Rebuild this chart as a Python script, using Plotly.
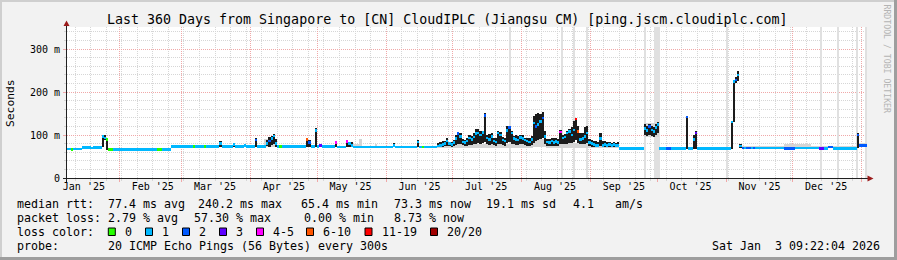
import plotly.graph_objects as go
import pandas as pd

N = None
END = "2026-01-03 09:22:04"
START = "2025-01-08 09:22:04"

# ---------------- data: step segments (each lasts until the next start) -------------
seg_start = [
    "2025-01-08 09:22:04", "2025-01-10", "2025-01-11", "2025-01-15", "2025-01-19", "2025-01-20",
    "2025-01-24", "2025-01-25", "2025-01-26", "2025-01-27", "2025-01-29", "2025-02-18",
    "2025-02-20", "2025-02-24", "2025-03-06", "2025-03-07", "2025-03-11", "2025-03-12",
    "2025-03-18", "2025-03-19", "2025-03-24", "2025-03-25", "2025-03-29", "2025-03-30",
    "2025-04-03", "2025-04-04", "2025-04-08", "2025-04-09", "2025-04-10", "2025-04-11",
    "2025-04-12", "2025-04-13", "2025-04-14", "2025-04-15", "2025-04-26", "2025-04-27",
    "2025-04-28", "2025-04-30", "2025-05-01", "2025-05-02", "2025-05-03", "2025-05-09",
    "2025-05-10", "2025-05-14", "2025-05-15", "2025-05-16", "2025-05-17", "2025-06-04",
    "2025-06-05", "2025-06-15", "2025-06-16", "2025-06-17", "2025-06-18",
    # noisy summer
    "2025-06-24", "2025-06-25", "2025-06-26", "2025-06-27", "2025-06-28", "2025-06-29", "2025-06-30",
    "2025-07-01", "2025-07-02", "2025-07-03", "2025-07-04", "2025-07-05", "2025-07-06", "2025-07-07",
    "2025-07-08", "2025-07-09", "2025-07-10", "2025-07-11", "2025-07-12", "2025-07-13", "2025-07-14",
    "2025-07-15", "2025-07-16", "2025-07-17", "2025-07-18", "2025-07-19", "2025-07-20", "2025-07-21",
    "2025-07-22", "2025-07-23", "2025-07-24", "2025-07-25", "2025-07-26", "2025-07-27", "2025-07-28",
    "2025-07-29", "2025-07-30", "2025-07-31", "2025-08-01", "2025-08-02", "2025-08-03", "2025-08-04",
    "2025-08-05", "2025-08-06", "2025-08-07", "2025-08-08", "2025-08-09", "2025-08-10", "2025-08-11",
    "2025-08-12", "2025-08-13", "2025-08-14", "2025-08-15", "2025-08-16", "2025-08-17", "2025-08-18",
    "2025-08-19", "2025-08-20", "2025-08-21", "2025-08-22", "2025-08-23", "2025-08-24", "2025-08-25",
    "2025-08-26", "2025-08-27", "2025-08-28", "2025-08-29", "2025-08-30", "2025-08-31", "2025-09-01",
    "2025-09-02", "2025-09-03", "2025-09-04", "2025-09-05", "2025-09-06", "2025-09-07", "2025-09-08",
    "2025-09-09", "2025-09-10", "2025-09-11", "2025-09-12", "2025-09-13",
    # autumn / winter
    "2025-09-14", "2025-09-25", "2025-09-26", "2025-09-27", "2025-09-28", "2025-09-29",
    "2025-09-30", "2025-10-01", "2025-10-02", "2025-10-05", "2025-10-07", "2025-10-14",
    "2025-10-15", "2025-10-17", "2025-10-18", "2025-10-19", "2025-11-03", "2025-11-04",
    "2025-11-05", "2025-11-06", "2025-11-07", "2025-11-08", "2025-11-09", "2025-11-10",
    "2025-11-12", "2025-11-13", "2025-11-14", "2025-11-27", "2025-12-02", "2025-12-13",
    "2025-12-15", "2025-12-17", "2025-12-19", "2025-12-30", "2025-12-31",
]

median_ms = [
    67, 66, 67, 71, 70, 71,
    96, 93, 90, 66, 66, 66,
    66, 73, 73, 73, 73, 73,
    80, 73, 78, 73, 76, 73,
    88, 73, 80, 86, 92, 98,
    80, 73, 73, 73, 89, 82,
    73, 110, 73, 76, 73, 82,
    72, 85, 80, 76, 72, 76,
    72, 84, 72, 72, 72,
    74, 75, 78, 80, 86, 80, 78,
    82, 92, 103, 97, 84, 82, 86,
    93, 90, 95, 103, 105, 100, 106,
    145, 93, 90, 97, 86, 84, 105,
    100, 88, 86, 110, 117, 105, 92,
    90, 88, 94, 92, 88, 86, 84,
    90, 128, 120, 125, 132, 140, 97,
    84, 82, 86, 82, 85, 82, 107,
    93, 95, 105, 108, 100, 112, 137,
    108, 90, 92, 97, 105, 82, 80,
    78, 76, 76, 92, 76, 78, 75,
    78, 76, 78, 75, 76,
    68, 115, 110, 120, 112, 108,
    118, 124, 68, 68, 68, 142,
    68, 90, 105, 68, 130, 225,
    228, 240, 74, 70, 70, 70,
    70, 70, 70, 69, 70, 68,
    69, 72, 69, 100, 75,
]

smoke_lo_ms = [
    N, N, N, N, N, N,
    71, 88, 66, N, N, N,
    N, N, N, N, N, N,
    73, N, 73, N, 73, N,
    73, N, 74, 73, 76, 80,
    73, N, N, N, 73, 73,
    N, 73, N, N, N, 73,
    N, 72, 72, 72, N, 72,
    N, 72, N, N, N,
    72, 72, 73, 74, 75, 74, 73,
    74, 76, 78, 78, 76, 74, 75,
    77, 76, 78, 80, 82, 80, 82,
    84, 78, 77, 79, 76, 75, 80,
    80, 76, 75, 82, 84, 80, 78,
    77, 76, 78, 78, 76, 75, 74,
    76, 82, 85, 88, 90, 92, 80,
    74, 74, 75, 74, 75, 74, 80,
    78, 79, 80, 82, 82, 84, 88,
    82, 78, 78, 80, 82, 74, 73,
    72, 71, 71, 75, 71, 72, 71,
    71, 71, 71, 71, 71,
    N, 100, 98, 100, 98, 96,
    100, 105, N, N, N, 68,
    N, 68, 68, N, 68, 130,
    222, 226, 70, N, N, N,
    N, N, N, N, N, N,
    N, N, N, 70, 72,
]

smoke_hi_ms = [
    N, N, N, N, N, N,
    101, 99, 94, N, N, N,
    N, N, N, N, N, N,
    86, N, 82, N, 80, N,
    93, N, 88, 95, 97, 103,
    90, N, N, N, 93, 88,
    N, 116, N, N, N, 84,
    N, 87, 84, 83, N, 82,
    N, 88, N, N, N,
    82, 84, 85, 86, 94, 84, 83,
    88, 100, 106, 104, 90, 88, 92,
    101, 98, 104, 113, 114, 110, 110,
    152, 100, 103, 104, 92, 93, 109,
    108, 95, 93, 120, 122, 110, 98,
    100, 97, 101, 100, 93, 93, 92,
    98, 144, 150, 152, 150, 153, 110,
    90, 90, 93, 92, 93, 90, 112,
    101, 103, 109, 115, 118, 132, 140,
    120, 105, 105, 118, 121, 90, 88,
    86, 85, 84, 105, 86, 86, 83,
    84, 82, 84, 82, 84,
    N, 125, 122, 126, 120, 118,
    126, 130, N, N, N, 145,
    N, 100, 109, N, 132, 228,
    235, 248, 80, N, N, N,
    N, N, N, N, N, N,
    N, N, N, 105, 80,
]

loss_count = [
    1, 0, 1, 1, 1, 1,
    1, 1, 0, 0, 1, 0,
    1, 1, 0, 1, 0, 1,
    1, 1, 1, 1, 1, 1,
    2, 1, 1, 2, 1, 1,
    1, 1, 0, 1, 7, 2,
    1, 1, 1, 3, 1, 4,
    1, 4, 1, 1, 1, 1,
    1, 1, 1, 0, 1,
    1, 1, 1, 1, 1, 1, 1,
    1, 1, 2, 1, 1, 1, 1,
    1, 1, 1, 1, 1, 1, 1,
    2, 1, 1, 1, 1, 1, 1,
    1, 1, 1, 1, 2, 1, 1,
    1, 1, 1, 1, 1, 1, 1,
    1, 1, 2, 1, 1, 2, 1,
    1, 1, 1, 1, 1, 1, 4,
    1, 1, 1, 1, 1, 1, 12,
    7, 1, 1, 1, 1, 1, 1,
    1, 1, 1, 1, 1, 1, 1,
    1, 1, 1, 1, 1,
    1, 1, 1, 2, 1, 1,
    1, 1, 1, 2, 1, 2,
    1, 1, 3, 1, 1, 1,
    2, 1, 1, 2, 1, 2,
    1, 2, 1, 2, 1, 3,
    1, 2, 1, 2, 2,
]

# light-grey smoke (outer ping spread)
pale_start = ["2025-04-07", "2025-05-16", "2025-05-17", "2025-05-20", "2025-05-27",
              "2025-06-24", "2025-07-02", "2025-07-16", "2025-08-06", "2025-08-12", "2025-08-18",
              "2025-08-31", "2025-09-25", "2025-11-08", "2025-11-27", "2025-12-09", "2025-12-30"]
pale_end = ["2025-04-13", "2025-05-17", "2025-05-20", "2025-05-21", "2025-05-28",
            "2025-07-02", "2025-07-16", "2025-08-06", "2025-08-12", "2025-08-18", "2025-08-31",
            "2025-09-14", "2025-10-02", "2025-11-27", "2025-12-09", "2025-12-30", END]
pale_lo_ms = [73, 72, 72, 72, 72, 70, 70, 70, 72, 70, 70, 70, 95, 70, 70, 70, 72]
pale_hi_ms = [90, 84, 78, 90, 78, 76, 80, 78, 90, 76, 82, 76, 128, 75, 78, 74, 82]

# periods with unknown data (full-height grey)
unknown_start = ["2025-07-26 16:00", "2025-08-19 00:00", "2025-08-24 05:00", "2025-08-30 05:00",
                 "2025-09-25 06:00", "2025-09-29 18:00", "2025-11-01 06:00", "2025-12-13 06:00",
                 "2025-12-20 18:00", "2025-12-29 18:00", "2026-01-02 12:00"]
unknown_days = [0.45, 0.45, 0.45, 0.45, 0.9, 2.4, 0.45, 0.45, 0.9, 0.45, 0.9]

month_label_at = ["2025-01-16", "2025-02-16", "2025-03-16", "2025-04-16", "2025-05-16", "2025-06-16",
                  "2025-07-16", "2025-08-16", "2025-09-16", "2025-10-16", "2025-11-16", "2025-12-16"]
month_labels = ["Jan '25", "Feb '25", "Mar '25", "Apr '25", "May '25", "Jun '25",
                "Jul '25", "Aug '25", "Sep '25", "Oct '25", "Nov '25", "Dec '25"]

y_tick_vals = [0, 100, 200, 300]
y_tick_text = ["0", "100 m", "200 m", "300 m"]

loss_labels = ["0", "1", "2", "3", "4-5", "6-10", "11-19", "20/20"]
loss_colors = ["#26ff00", "#00b8ff", "#0059ff", "#5e00ff", "#ff00ff", "#ff5500", "#ff0000", "#a10000"]

title_text = "Last 360 Days from Singapore to [CN] CloudIPLC (Jiangsu CM) [ping.jscm.cloudiplc.com]"
rtt_items = ["median rtt:", "77.4 ms avg", "240.2 ms max", "65.4 ms min", "73.3 ms now",
             "19.1 ms sd", "4.1   am/s"]
loss_items = ["packet loss:", "2.79 % avg", "57.30 % max", "0.00 % min", "8.73 % now"]
probe_items = ["probe:", "20 ICMP Echo Pings (56 Bytes) every 300s"]
stamp_text = "Sat Jan  3 09:22:04 2026"

assert len(seg_start) == len(median_ms) == len(smoke_lo_ms) == len(smoke_hi_ms) == len(loss_count)

# ---------------- geometry helpers (pixels -> paper) ----------------
FIG_W, FIG_H = 897, 260
L, T, W, H = 67, 27, 800, 151
Y_MAX = 351.2


def px(x):
    return (x - L) / W


def py(y):
    return 1 - (y - T) / H


def bucket(n):
    if n <= 3:
        return n
    if n <= 5:
        return 4
    if n <= 10:
        return 5
    if n <= 19:
        return 6
    return 7


def to_dt(lst):
    return pd.to_datetime(lst, format="mixed")


DAY_MS = 86400000.0
t0 = to_dt(seg_start)
t_end = pd.Timestamp(END)
nxt = list(t0[1:]) + [t_end]
seg_w = [(b - a).total_seconds() * 1000 for a, b in zip(t0, nxt)]

fig = go.Figure()

# unknown periods
fig.add_trace(go.Bar(
    x=to_dt(unknown_start), y=[Y_MAX] * len(unknown_start), base=0,
    width=[d * DAY_MS for d in unknown_days], offset=0,
    marker=dict(color="#e0e0e0", line=dict(width=0)), hoverinfo="skip", showlegend=False))

# pale smoke
ps = to_dt(pale_start)
pe = to_dt(pale_end)
fig.add_trace(go.Bar(
    x=ps, y=[h - l for l, h in zip(pale_lo_ms, pale_hi_ms)], base=pale_lo_ms,
    width=[(b - a).total_seconds() * 1000 for a, b in zip(ps, pe)], offset=0,
    marker=dict(color="#d4d4d4", line=dict(width=0)), hoverinfo="skip", showlegend=False))

# dark smoke
fig.add_trace(go.Bar(
    x=t0,
    y=[(h - l) if h is not None else None for l, h in zip(smoke_lo_ms, smoke_hi_ms)],
    base=[l if l is not None else 0 for l in smoke_lo_ms],
    width=seg_w, offset=0,
    marker=dict(color="#1c1c1c", line=dict(width=0)), hoverinfo="skip", showlegend=False))

# median, coloured by loss
MED_THICK = 6.0
fig.add_trace(go.Bar(
    x=t0, y=[MED_THICK] * len(median_ms), base=[m - MED_THICK / 2 for m in median_ms],
    width=seg_w, offset=0,
    marker=dict(color=[loss_colors[bucket(n)] for n in loss_count], line=dict(width=0)),
    hoverinfo="skip", showlegend=False))

# dummy trace for the label axis
fig.add_trace(go.Scatter(x=month_label_at, y=[0] * len(month_label_at), xaxis="x2",
                         mode="markers", marker=dict(opacity=0), hoverinfo="skip",
                         showlegend=False))

FONT = "DejaVu Sans Mono, monospace"
MINOR_GRID = "#d6d6d6"
MAJOR_GRID = "#f0a8a8"

fig.update_layout(
    width=FIG_W, height=FIG_H,
    margin=dict(l=L, r=FIG_W - L - W, t=T, b=FIG_H - T - H, pad=0),
    paper_bgcolor="#f2f2f2", plot_bgcolor="#ffffff",
    barmode="overlay", bargap=0, hovermode=False, showlegend=False,
    font=dict(family=FONT, size=10, color="#000000"),
    xaxis=dict(
        type="date", range=[START, END], showticklabels=False,
        tickmode="linear", tick0="2025-01-01", dtick="M1",
        ticks="outside", ticklen=3, tickcolor=MAJOR_GRID, tickwidth=1,
        showgrid=True, gridcolor=MAJOR_GRID, griddash="1px,1px", gridwidth=1,
        minor=dict(tick0="2025-01-05", dtick=7 * DAY_MS, showgrid=True,
                   gridcolor=MINOR_GRID, griddash="1px,1px", ticks="outside",
                   ticklen=2, tickcolor=MINOR_GRID),
        showline=False, zeroline=False, fixedrange=True,
    ),
    xaxis2=dict(
        type="date", range=[START, END], overlaying="x", side="bottom", anchor="y",
        tickmode="array", tickvals=month_label_at, ticktext=month_labels,
        ticks="", showgrid=False, showline=False, zeroline=False,
        tickfont=dict(family=FONT, size=10, color="#000000"), ticklabelstandoff=1,
    ),
    yaxis=dict(
        range=[0, Y_MAX], tickmode="array", tickvals=y_tick_vals, ticktext=y_tick_text,
        ticks="outside", ticklen=3, tickcolor=MAJOR_GRID,
        showgrid=True, gridcolor=MAJOR_GRID, griddash="1px,1px",
        minor=dict(tickmode="linear", tick0=0, dtick=20, showgrid=True, gridcolor=MINOR_GRID,
                   griddash="1px,1px", ticks="outside", ticklen=2, tickcolor=MINOR_GRID),
        tickfont=dict(family=FONT, size=10, color="#000000"), ticklabelstandoff=1,
        showline=False, zeroline=False, fixedrange=True,
    ),
)

shapes = []
# frame (3-D border)
shapes.append(dict(type="rect", xref="paper", yref="paper", x0=px(0), x1=px(FIG_W),
                   y0=py(0), y1=py(2), fillcolor="#cfcfcf", line=dict(width=0), layer="above"))
shapes.append(dict(type="rect", xref="paper", yref="paper", x0=px(0), x1=px(2),
                   y0=py(0), y1=py(FIG_H), fillcolor="#cfcfcf", line=dict(width=0), layer="above"))
shapes.append(dict(type="rect", xref="paper", yref="paper", x0=px(0), x1=px(FIG_W),
                   y0=py(FIG_H - 3), y1=py(FIG_H), fillcolor="#9e9e9e", line=dict(width=0), layer="above"))
shapes.append(dict(type="rect", xref="paper", yref="paper", x0=px(FIG_W - 3), x1=px(FIG_W),
                   y0=py(0), y1=py(FIG_H), fillcolor="#9e9e9e", line=dict(width=0), layer="above"))
# axes
shapes.append(dict(type="line", xref="paper", yref="paper", x0=px(63), x1=px(868),
                   y0=py(178.5), y1=py(178.5), line=dict(color="#202020", width=1), layer="above"))
shapes.append(dict(type="line", xref="paper", yref="paper", x0=px(66.5), x1=px(66.5),
                   y0=py(182), y1=py(25), line=dict(color="#202020", width=1), layer="above"))
# arrows
shapes.append(dict(type="path", xref="paper", yref="paper",
                   path=f"M {px(63.5)} {py(26)} L {px(69.5)} {py(26)} L {px(66.5)} {py(20.5)} Z",
                   fillcolor="#9b1b1b", line=dict(width=0), layer="above"))
shapes.append(dict(type="path", xref="paper", yref="paper",
                   path=f"M {px(867.5)} {py(175.5)} L {px(867.5)} {py(181.5)} L {px(873.5)} {py(178.5)} Z",
                   fillcolor="#9b1b1b", line=dict(width=0), layer="above"))

# legend squares
sq_x = [108.3, 145.5, 182.5, 219.5, 256.5, 306.5, 365.0, 430.5]
for xq, col in zip(sq_x, loss_colors):
    shapes.append(dict(type="rect", xref="paper", yref="paper", x0=px(xq), x1=px(xq + 7),
                       y0=py(228), y1=py(235.5), fillcolor=col,
                       line=dict(color="#000000", width=1)))
fig.update_layout(shapes=shapes)

ann = []


def text_at(x, y, s, size=11.63, anchor="left", color="#000000", angle=0):
    ann.append(dict(xref="paper", yref="paper", x=px(x), y=py(y), text=s.replace(" ", "\u00a0"),
                    showarrow=False, xanchor=anchor, yanchor="middle", textangle=angle,
                    font=dict(family=FONT, size=size, color=color), borderpad=0))


text_at(447.3, 19.5, title_text, size=13.3, anchor="center")
text_at(10, 103, "Seconds", size=11.3, anchor="center", angle=-90)
text_at(886.5, 59, "RRDTOOL / TOBI OETIKER", size=8.2, anchor="center", color="#b4b4b4", angle=90)

rtt_x = [16, 107.3, 196.7, 300, 392.7, 485, 572.3]
for xx, s in zip(rtt_x, rtt_items):
    text_at(xx, 204, s)
loss_x = [16, 107.3, 193.3, 302.7, 393.3]
for xx, s in zip(loss_x, loss_items):
    text_at(xx, 218.3, s)
text_at(16, 231.7, "loss color:")
lab_x = [124, 161, 198, 235, 272, 322, 380.5, 446]
for xx, s in zip(lab_x, loss_labels):
    text_at(xx, 231.7, s)
probe_x = [16, 107.3]
for xx, s in zip(probe_x, probe_items):
    text_at(xx, 246, s)
text_at(880.7, 246, stamp_text, anchor="right")

fig.update_layout(annotations=ann)

fig.write_html("out.html")
